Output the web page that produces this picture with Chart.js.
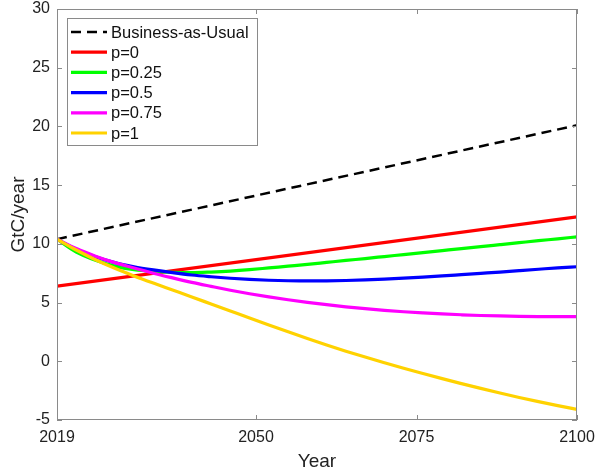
<!DOCTYPE html>
<html>
<head>
<meta charset="utf-8">
<script src="https://cdn.jsdelivr.net/npm/chart.js@4"></script>
<style>
  html, body { margin: 0; padding: 0; background: #fff; }
  #wrap { width: 598px; height: 474px; position: relative; }
</style>
</head>
<body>
<div id="wrap"><canvas id="emissionsChart"></canvas></div>
<script>
// values (GtC/year)
const lineYears = [2019, 2100];
const bau = [10.4, 20.1];
const p0 = [6.4, 12.3];

const years = [2019, 2022, 2025, 2028, 2031, 2034, 2037, 2040, 2043, 2046, 2049, 2052, 2055, 2058,
               2061, 2064, 2067, 2070, 2073, 2076, 2079, 2082, 2085, 2088, 2091, 2094, 2097, 2100];
const p025 = [10.4, 9.3, 8.6, 8.1, 7.8, 7.65, 7.57, 7.55, 7.6, 7.68, 7.8, 7.95, 8.1, 8.25,
              8.42, 8.59, 8.75, 8.92, 9.09, 9.26, 9.43, 9.6, 9.76, 9.93, 10.1, 10.27, 10.43, 10.6];
const p05 = [10.4, 9.55, 8.9, 8.4, 8.05, 7.78, 7.55, 7.35, 7.2, 7.07, 6.97, 6.9, 6.86, 6.84,
             6.85, 6.88, 6.93, 7.0, 7.08, 7.17, 7.27, 7.38, 7.49, 7.6, 7.72, 7.84, 7.96, 8.05];
const p075 = [10.4, 9.6, 8.95, 8.4, 7.95, 7.5, 7.1, 6.72, 6.38, 6.05, 5.75, 5.48, 5.24, 5.02,
              4.82, 4.64, 4.48, 4.34, 4.22, 4.12, 4.03, 3.96, 3.9, 3.86, 3.83, 3.81, 3.8, 3.8];
const p1 = [10.4, 9.48, 8.65, 7.92, 7.27, 6.66, 6.07, 5.48, 4.88, 4.28, 3.68, 3.09, 2.51, 1.94,
            1.39, 0.86, 0.36, -0.12, -0.59, -1.04, -1.48, -1.9, -2.31, -2.7, -3.08, -3.44, -3.78, -4.1];

const xTicks = [2019, 2050, 2075, 2100];
const yMin = -5, yMax = 30, yStep = 5;

const FONT = "'Liberation Sans', Arial, Helvetica, sans-serif";
const AXIS = "#8a8a8a";

function pts(xs, ys) {
  return xs.map((x, i) => ({ x: x, y: ys[i] }));
}

// MATLAB-ish box with inward ticks on all four sides
const boxTicks = {
  id: "boxTicks",
  afterDraw(chart) {
    const { ctx, chartArea: a, scales } = chart;
    const len = 5;
    ctx.save();
    ctx.strokeStyle = AXIS;
    ctx.lineWidth = 1;
    ctx.strokeRect(a.left + 0.5, a.top + 0.5, a.right - a.left - 1, a.bottom - a.top - 1);
    ctx.beginPath();
    scales.x.ticks.forEach(t => {
      const px = Math.round(scales.x.getPixelForValue(t.value)) + 0.5;
      ctx.moveTo(px, a.bottom); ctx.lineTo(px, a.bottom - len);
      ctx.moveTo(px, a.top); ctx.lineTo(px, a.top + len);
    });
    scales.y.ticks.forEach(t => {
      const py = Math.round(scales.y.getPixelForValue(t.value)) + 0.5;
      ctx.moveTo(a.left, py); ctx.lineTo(a.left + len, py);
      ctx.moveTo(a.right, py); ctx.lineTo(a.right - len, py);
    });
    ctx.stroke();
    ctx.restore();
  }
};

// legend drawn inside the plot, top-left
const insideLegend = {
  id: "insideLegend",
  afterDraw(chart) {
    const { ctx, chartArea: a } = chart;
    const x0 = a.left + 10, y0 = a.top + 9;
    const w = 190, h = 127, row = 20.2;
    ctx.save();
    ctx.fillStyle = "#fff";
    ctx.fillRect(x0, y0, w, h);
    ctx.strokeStyle = AXIS;
    ctx.lineWidth = 1;
    ctx.strokeRect(x0 + 0.5, y0 + 0.5, w, h);
    ctx.font = "16.5px " + FONT;
    ctx.textBaseline = "middle";
    chart.data.datasets.forEach((ds, i) => {
      const cy = y0 + 14 + i * row;
      ctx.beginPath();
      ctx.strokeStyle = ds.borderColor;
      ctx.lineWidth = ds.borderWidth;
      ctx.setLineDash(ds.borderDash || []);
      ctx.moveTo(x0 + 4, cy);
      ctx.lineTo(x0 + 40, cy);
      ctx.stroke();
      ctx.setLineDash([]);
      ctx.fillStyle = "#111";
      ctx.fillText(ds.label, x0 + 44, cy + 1);
    });
    ctx.restore();
  }
};

const ctx = document.getElementById("emissionsChart").getContext("2d");
const chart = new Chart(ctx, {
  type: "line",
  data: {
    datasets: [
      { label: "Business-as-Usual", data: pts(lineYears, bau), borderColor: "#000000", borderWidth: 2.5, borderDash: [10, 6], order: 6 },
      { label: "p=0", data: pts(lineYears, p0), borderColor: "#ff0000", borderWidth: 3.2, order: 5 },
      { label: "p=0.25", data: pts(years, p025), borderColor: "#00ff00", borderWidth: 3.2, order: 4 },
      { label: "p=0.5", data: pts(years, p05), borderColor: "#0000ff", borderWidth: 3.2, order: 3 },
      { label: "p=0.75", data: pts(years, p075), borderColor: "#ff00ff", borderWidth: 3.2, order: 2 },
      { label: "p=1", data: pts(years, p1), borderColor: "#ffd200", borderWidth: 3.2, order: 1 }
    ]
  },
  options: {
    responsive: true,
    maintainAspectRatio: false,
    animation: false,
    devicePixelRatio: 1,
    elements: {
      point: { radius: 0 },
      line: { cubicInterpolationMode: "monotone", fill: false }
    },
    layout: { padding: { left: 0, right: 21, top: 9, bottom: 0 } },
    plugins: {
      legend: { display: false },
      tooltip: { enabled: false }
    },
    scales: {
      x: {
        type: "linear",
        min: 2019,
        max: 2100,
        afterBuildTicks(scale) {
          scale.ticks = xTicks.map(v => ({ value: v }));
        },
        afterFit(scale) {
          scale.height = 54;
          scale.paddingLeft = 0;
          scale.paddingRight = 0;
        },
        grid: { display: false, tickLength: 0 },
        border: { display: false },
        ticks: {
          font: { family: FONT, size: 16 },
          color: "#222",
          padding: 8,
          maxRotation: 0,
          callback: v => String(v)
        },
        title: {
          display: true,
          text: "Year",
          font: { family: FONT, size: 19 },
          color: "#222",
          padding: { top: 2, bottom: 1 }
        }
      },
      y: {
        min: yMin,
        max: yMax,
        afterFit(scale) {
          scale.width = 57;
          scale.paddingTop = 0;
          scale.paddingBottom = 0;
        },
        grid: { display: false, tickLength: 0 },
        border: { display: false },
        ticks: {
          stepSize: yStep,
          font: { family: FONT, size: 16 },
          color: "#222",
          padding: 7
        },
        title: {
          display: true,
          text: "GtC/year",
          font: { family: FONT, size: 19 },
          color: "#222",
          padding: { top: 7, bottom: 4 }
        }
      }
    }
  },
  plugins: [boxTicks, insideLegend]
});
</script>
</body>
</html>
